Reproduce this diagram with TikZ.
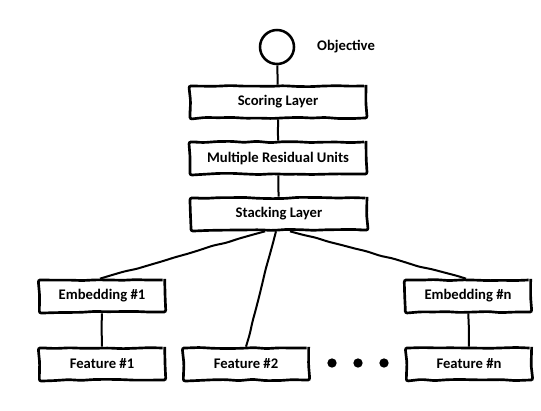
\documentclass[tikz,border=0pt]{standalone}
\usepackage{fontspec}
\setmainfont{Carlito}
\usetikzlibrary{calc, decorations.pathmorphing}

\begin{document}
\pgfmathsetseed{7}
\begin{tikzpicture}[x=0.75pt, y=-0.75pt,
    sketch/.style={decorate, decoration={random steps, segment length=10pt, amplitude=0.5pt}, rounded corners=1.5pt},
    layer/.style={draw, sketch, line width=2pt, minimum width=132pt, minimum height=24pt, inner sep=0pt, font=\bfseries\fontsize{11}{13}\selectfont},
    block/.style={layer, minimum width=94pt},
    wire/.style={line width=1.5pt, sketch}]
      \useasboundingbox (0, 0) rectangle (541, 410);

      \node[circle, draw, line width=1.9pt, minimum size=25.5pt, inner sep=0pt] (obj) at (277, 47) {};
      \node[font=\bfseries\fontsize{11}{13}\selectfont] (objlabel) at (346, 47) {Objective};

      \node[layer] (score) at (278, 102) {Scoring Layer};
      \node[layer] (resid) at (278, 158) {Multiple Residual Units};
      \node[layer] (stack) at (279, 214) {Stacking Layer};

      \node[block] (emb1) at (102, 296) {Embedding \#1};
      \node[block] (embn) at (468, 296) {Embedding \#n};

      \node[block] (feat1) at (102, 364) {Feature \#1};
      \node[block] (feat2) at (246, 364) {Feature \#2};
      \node[block] (featn) at (469, 364) {Feature \#n};

      % dots between feature 2 and n
      \foreach \i/\x in {1/332, 2/358, 3/384}
        \node[circle, fill=black, inner sep=0pt, minimum size=7pt] (dot\i) at (\x, 363) {};

      \draw[wire] (obj) -- (score);
      \draw[wire] (score) -- (resid);
      \draw[wire] (resid) -- (stack);
      \draw[wire] ($(stack.south)+(-14, 0)$) -- ($(emb1.north)+(-2, 0)$);
      \draw[wire] ($(stack.south)+(-3, 0)$) -- (feat2.north);
      \draw[wire] ($(stack.south)+(11, 0)$) -- ($(embn.north)+(-2, 0)$);
      \draw[wire] (emb1) -- (feat1);
      \draw[wire] (embn) -- (featn);

    \end{tikzpicture}
\end{document}
